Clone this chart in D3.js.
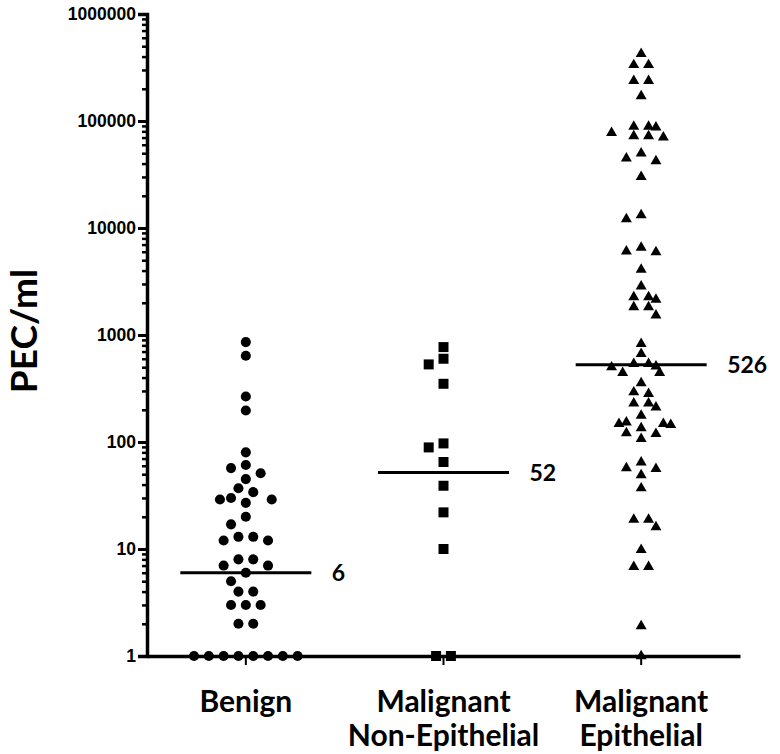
<!DOCTYPE html>
<html>
<head>
<meta charset="utf-8">
<script src="https://cdn.jsdelivr.net/npm/d3@7"></script>
<style>
  body { margin: 0; background: #fff; }
  svg { display: block; }
  .bold { font-family: Lato, "Open Sans", sans-serif; font-weight: 700; fill: #000; }
  .tick-lbl { font-family: "Liberation Sans", Arial, sans-serif; font-weight: 700; }
</style>
</head>
<body>
<div id="chart"></div>
<script>
// Data (PEC/ml, log scale)
const categories = ['Benign', 'Malignant Non-Epithelial', 'Malignant Epithelial']
const categoryLines = [['Benign'], ['Malignant', 'Non-Epithelial'], ['Malignant', 'Epithelial']]

const benign = [858, 640, 266, 197, 80, 61, 57, 51, 45, 37, 34, 30, 29, 29, 27, 20, 17,
    13, 13, 12, 12, 8, 8, 7, 7, 6, 5, 4, 4, 3, 3, 3, 2, 2, 1, 1, 1, 1, 1, 1, 1, 1]

const nonEpithelial = [771, 600, 531, 350, 97, 89, 65, 39, 22, 10, 1, 1]

const epithelial = [424000, 334000, 334000, 237000, 237000, 171000, 88500, 87300, 72400,
    70300, 72400, 77600, 88500, 44700, 42200, 49900, 30100,
    13200, 12100, 6560, 5970, 6060, 4090, 2850, 2140, 2260, 2260, 1820, 1820, 1530, 829, 668,
    538, 510, 444, 500, 444, 538,
    355, 282, 292, 230, 211, 230, 177, 153, 148, 135, 145, 148, 119, 107, 121,
    64.5, 56, 57, 49, 37, 18.8, 18.8, 16, 9.8, 6.8, 6.8, 1.9, 1]

const medians = [6, 52, 526]
const medianLabels = ['6', '52', '526']
const yTicks = [1, 10, 100, 1000, 10000, 100000, 1000000]

const series = [benign, nonEpithelial, epithelial]
const symbols = [d3.symbolCircle, d3.symbolSquare, d3.symbolTriangle]
const symbolSizes = [80, 100, 52]

const width = 780, height = 754
const margin = {top: 14, right: 40, bottom: 98, left: 147}

const svg = d3.select('#chart').append('svg')
    .attr('width', width)
    .attr('height', height)

// Scales
const y = d3.scaleLog()
    .domain([1, 1000000])
    .range([height - margin.bottom, margin.top])

const x = d3.scaleBand()
    .domain(categories)
    .range([margin.left, width - margin.right])

// Minor ticks 2..9 per decade
let minorTicks = []
yTicks.slice(0, -1).forEach(t => {
    for (let m = 2; m <= 9; m++) minorTicks.push(t * m)
})

// Minor y ticks
svg.append('g')
    .attr('transform', `translate(${margin.left},0)`)
    .call(d3.axisLeft(y).tickValues(minorTicks).tickSize(5).tickFormat(''))
    .call(g => g.select('.domain').remove())
    .call(g => g.selectAll('line').attr('stroke-width', 2.5))

// Major y ticks and labels
svg.append('g')
    .attr('transform', `translate(${margin.left},0)`)
    .call(d3.axisLeft(y).tickValues(yTicks).tickSize(9).tickPadding(2).tickFormat(d3.format('d')))
    .call(g => g.select('.domain').attr('stroke-width', 3.5))
    .call(g => g.selectAll('line').attr('stroke-width', 3))
    .call(g => g.selectAll('text').attr('class', 'tick-lbl').attr('font-size', 17.5).attr('fill', '#000'))

// X axis
svg.append('g')
    .attr('transform', `translate(0,${height - margin.bottom})`)
    .call(d3.axisBottom(x).tickSize(9).tickSizeOuter(0).tickFormat(''))
    .call(g => g.select('.domain').attr('stroke-width', 3.5))
    .call(g => g.selectAll('line').attr('stroke-width', 2))

// Category labels
const catLabel = svg.append('g').selectAll('text')
    .data(categories)
    .join('text')
    .attr('class', 'bold')
    .attr('font-size', 30)
    .attr('text-anchor', 'middle')
    .attr('x', d => x(d) + x.bandwidth() / 2)
    .attr('y', 712)

catLabel.selectAll('tspan')
    .data((d, i) => categoryLines[i])
    .join('tspan')
    .attr('x', function() { return this.parentNode.getAttribute('x') })
    .attr('dy', (d, i) => i === 0 ? 0 : 34)
    .text(d => d)

// Y axis title
svg.append('text')
    .attr('class', 'bold')
    .attr('font-size', 37)
    .attr('text-anchor', 'middle')
    .attr('transform', 'translate(37,331) rotate(-90)')
    .text('PEC/ml')

// Simple column-scatter layout: push points sideways until they stop overlapping
function swarm(values, step, rx, ry) {
    let pts = values.map(v => ({v: v, py: y(v)})).sort((a, b) => a.py - b.py)
    let placed = []
    pts.forEach(p => {
        for (let i = 0; i < 60; i++) {
            let k = i === 0 ? 0 : (i % 2 ? -Math.ceil(i / 2) : Math.ceil(i / 2))
            let dx = k * step
            let hit = placed.some(q => ((q.dx - dx) / rx) ** 2 + ((q.py - p.py) / ry) ** 2 < 1)
            if (!hit) { p.dx = dx; break }
        }
        placed.push(p)
    })
    // center rows of identical values
    d3.group(placed, d => d.v).forEach(g => {
        if (g.length > 1) {
            let m = d3.mean(g, d => d.dx)
            g.forEach(d => d.dx -= m)
        }
    })
    return placed
}

const center = d => x(d) + x.bandwidth() / 2

// Points
series.forEach((vals, i) => {
    let cx = center(categories[i])
    let pts = swarm(vals, 7.4, 14, 10)
    svg.append('g').selectAll('path')
        .data(pts)
        .join('path')
        .attr('d', d3.symbol().type(symbols[i]).size(symbolSizes[i]))
        .attr('transform', d => `translate(${cx + d.dx},${y(d.v)})`)
        .attr('fill', '#000')
})

// Median lines
svg.append('g').selectAll('line')
    .data(medians)
    .join('line')
    .attr('x1', (d, i) => center(categories[i]) - 65.5)
    .attr('x2', (d, i) => center(categories[i]) + 65.5)
    .attr('y1', d => y(d))
    .attr('y2', d => y(d))
    .attr('stroke', '#000')
    .attr('stroke-width', 3)

// Median labels
svg.append('g').selectAll('text')
    .data(medians)
    .join('text')
    .attr('class', 'bold')
    .attr('font-size', 23)
    .attr('x', (d, i) => center(categories[i]) + 86)
    .attr('y', d => y(d))
    .attr('dy', '0.36em')
    .text((d, i) => medianLabels[i])
</script>
</body>
</html>
